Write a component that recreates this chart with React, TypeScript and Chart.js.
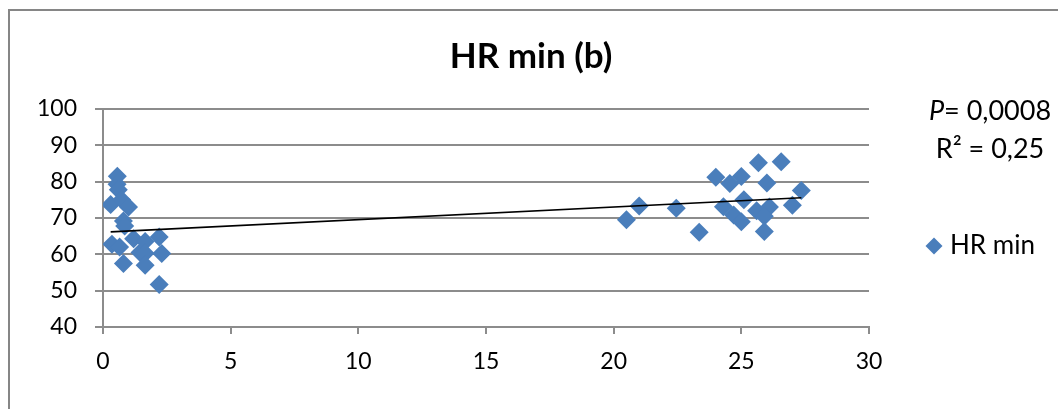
import { useEffect, useRef } from "react";
import { Chart, registerables } from "chart.js";

Chart.register(...registerables);

const chartTitle = "HR min (b)";
const seriesName = "HR min";
const pValueText = "= 0,0008";
const r2Text = "R² = 0,25";

const xTickValues = [0, 5, 10, 15, 20, 25, 30];
const yTickValues = [40, 50, 60, 70, 80, 90, 100];

// follow-up time (x) and minimum heart rate (y) for each subject
const hrX = [
  0.56, 0.55, 0.6, 0.3, 0.73, 1.0, 0.8, 0.85, 0.35, 0.65, 0.8, 1.2, 1.65, 1.45, 1.65, 1.65, 2.2, 2.3, 2.2,
  20.5, 21.0, 22.45, 23.35, 24.0, 24.55, 25.0, 25.67, 26.56, 26.0, 27.35, 27.0, 24.3, 24.7, 25.1, 25.0, 25.6,
  26.1, 25.9, 25.9,
];
const hrY = [
  81.5, 79.3, 77.8, 73.7, 75.0, 73.0, 69.2, 67.8, 62.8, 62.0, 57.5, 64.3, 63.5, 60.5, 60.3, 57.0, 64.8, 60.2, 51.7,
  69.5, 73.3, 72.7, 66.1, 81.2, 79.5, 81.4, 85.2, 85.5, 79.6, 77.6, 73.5, 73.1, 70.8, 75.0, 69.0, 72.0,
  73.0, 70.5, 66.3,
];

const FONT = "Lato, 'Open Sans', sans-serif";
const BLUE = "#4a7ebb";
const GRID = "#8c8c8c";

// ordinary least-squares fit for the trend line
function linearFit(xs: number[], ys: number[]) {
  const n = xs.length;
  const mx = xs.reduce((a, b) => a + b, 0) / n;
  const my = ys.reduce((a, b) => a + b, 0) / n;
  let sxy = 0;
  let sxx = 0;
  for (let i = 0; i < n; i++) {
    sxy += (xs[i] - mx) * (ys[i] - my);
    sxx += (xs[i] - mx) * (xs[i] - mx);
  }
  const slope = sxy / sxx;
  return { slope, intercept: my - slope * mx };
}

const decorPlugin = {
  id: "decor",
  beforeDraw(chart: any) {
    const ctx = chart.ctx;
    ctx.save();
    ctx.fillStyle = "#ffffff";
    ctx.fillRect(0, 0, chart.width, chart.height);
    ctx.restore();
  },
  afterDraw(chart: any) {
    const ctx = chart.ctx;
    ctx.save();
    // outer frame
    ctx.strokeStyle = "#868686";
    ctx.lineWidth = 2;
    ctx.beginPath();
    ctx.moveTo(9, chart.height);
    ctx.lineTo(9, 10);
    ctx.lineTo(chart.width, 10);
    ctx.stroke();

    ctx.fillStyle = "#000";
    ctx.textBaseline = "middle";

    // title
    ctx.font = `bold 35px ${FONT}`;
    ctx.textAlign = "center";
    ctx.fillText(chartTitle, 531, 57);

    // statistics
    const cx = 990;
    ctx.font = `italic 27px ${FONT}`;
    const wP = ctx.measureText("P").width;
    ctx.font = `27px ${FONT}`;
    const wRest = ctx.measureText(pValueText).width;
    const startX = cx - (wP + wRest) / 2;
    ctx.textAlign = "left";
    ctx.font = `italic 27px ${FONT}`;
    ctx.fillText("P", startX, 111);
    ctx.font = `27px ${FONT}`;
    ctx.fillText(pValueText, startX + wP, 111);
    ctx.textAlign = "center";
    ctx.fillText(r2Text, cx, 149);

    // legend
    const lx = 934;
    const ly = 246;
    const r = 8.5;
    ctx.fillStyle = BLUE;
    ctx.beginPath();
    ctx.moveTo(lx - r, ly);
    ctx.lineTo(lx, ly - r);
    ctx.lineTo(lx + r, ly);
    ctx.lineTo(lx, ly + r);
    ctx.closePath();
    ctx.fill();
    ctx.fillStyle = "#000";
    ctx.textAlign = "left";
    ctx.font = `26px ${FONT}`;
    ctx.fillText(seriesName, 950, ly);
    ctx.restore();
  },
};

export default function App() {
  const canvasRef = useRef<HTMLCanvasElement | null>(null);

  useEffect(() => {
    const canvas = canvasRef.current;
    if (!canvas) return;
    const points = hrX.map((x, i) => ({ x, y: hrY[i] }));
    const { slope, intercept } = linearFit(hrX, hrY);
    const xMin = Math.min(...hrX);
    const xMax = Math.max(...hrX);
    const trend = [
      { x: xMin, y: intercept + slope * xMin },
      { x: xMax, y: intercept + slope * xMax },
    ];

    const chart = new Chart(canvas, {
      type: "scatter",
      data: {
        datasets: [
          {
            type: "line",
            label: "trend",
            data: trend,
            borderColor: "#000",
            borderWidth: 1.6,
            pointRadius: 0,
            fill: false,
            order: 0,
          } as any,
          {
            label: seriesName,
            data: points,
            pointStyle: "rectRot",
            pointRadius: 9.5,
            backgroundColor: BLUE,
            borderColor: BLUE,
            borderWidth: 0,
            order: 1,
          },
        ],
      },
      options: {
        animation: false,
        responsive: false,
        events: [],
        layout: { padding: { left: 0, top: 109, right: 189, bottom: 0 } },
        plugins: {
          legend: { display: false },
          title: { display: false },
          tooltip: { enabled: false },
        },
        scales: {
          x: {
            type: "linear",
            min: xTickValues[0],
            max: xTickValues[xTickValues.length - 1],
            afterBuildTicks: (scale: any) => {
              scale.ticks = xTickValues.map((v) => ({ value: v }));
            },
            afterFit: (scale: any) => {
              scale.height = 82;
            },
            ticks: {
              color: "#000",
              font: { family: FONT, size: 23 },
              padding: 14,
              maxRotation: 0,
            },
            grid: {
              drawOnChartArea: false,
              drawTicks: true,
              tickLength: 7,
              color: GRID,
              lineWidth: 2,
            },
            border: { color: GRID, width: 2 },
          },
          y: {
            type: "linear",
            min: yTickValues[0],
            max: yTickValues[yTickValues.length - 1],
            afterBuildTicks: (scale: any) => {
              scale.ticks = yTickValues.map((v) => ({ value: v }));
            },
            afterFit: (scale: any) => {
              scale.width = 103;
            },
            ticks: {
              color: "#000",
              font: { family: FONT, size: 23 },
              padding: 18,
            },
            grid: {
              color: GRID,
              lineWidth: 2,
              drawTicks: true,
              tickLength: 8,
            },
            border: { color: GRID, width: 2 },
          },
        },
      },
      plugins: [decorPlugin],
    });
    return () => chart.destroy();
  }, []);

  return (
    <div style={{ position: "absolute", left: 0, top: 0, width: 1058, height: 409 }}>
      <canvas ref={canvasRef} width={1058} height={409} style={{ width: 1058, height: 409 }} />
    </div>
  );
}
